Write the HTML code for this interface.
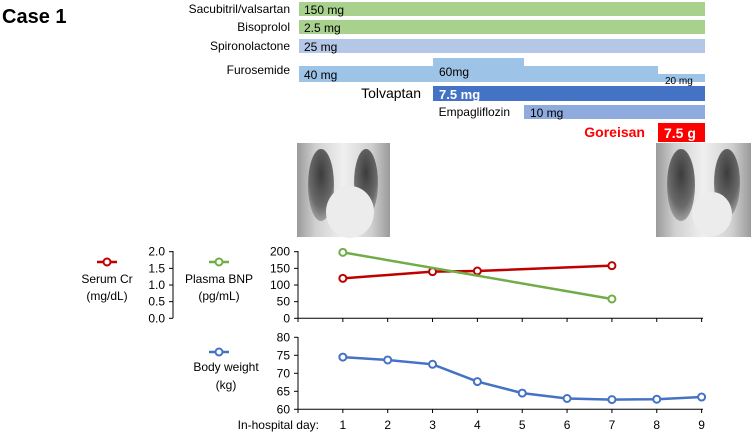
<!DOCTYPE html>
<html><head><meta charset="utf-8"><style>
body{margin:0;width:751px;height:435px;background:#fff;font-family:"Liberation Sans",sans-serif;overflow:hidden}
svg text{font-family:"Liberation Sans",sans-serif}
</style></head><body>
<svg id="c" width="751" height="435" xmlns="http://www.w3.org/2000/svg">
<defs>
<radialGradient id="lung" cx="0.5" cy="0.35" r="0.65"><stop offset="0" stop-color="#3c3c3c"/><stop offset="0.7" stop-color="#6a6a6a"/><stop offset="1" stop-color="#a0a0a0"/></radialGradient>
<linearGradient id="xb" x1="0" x2="1"><stop offset="0" stop-color="#9a9a9a"/><stop offset="0.2" stop-color="#d0d0d0"/><stop offset="0.5" stop-color="#f0f0f0"/><stop offset="0.8" stop-color="#d0d0d0"/><stop offset="1" stop-color="#9a9a9a"/></linearGradient>
</defs>
<text x="2" y="23" font-size="20" font-weight="bold">Case 1</text>
<g id="meds"></g>
<g id="xr1">
<rect x="297" y="143" width="93" height="94" fill="url(#xb)"/>
<ellipse cx="321" cy="185" rx="13" ry="36" fill="url(#lung)"/>
<ellipse cx="366" cy="183" rx="12" ry="34" fill="url(#lung)"/>
<ellipse cx="350" cy="212" rx="24" ry="26" fill="#ececec"/>
</g>
<g id="xr2">
<rect x="656" y="143" width="95" height="94" fill="url(#xb)"/>
<ellipse cx="681" cy="185" rx="14" ry="36" fill="url(#lung)"/>
<ellipse cx="727" cy="183" rx="13" ry="34" fill="url(#lung)"/>
<ellipse cx="712" cy="214" rx="20" ry="22" fill="#ececec"/>
</g>
<g id="chart"></g>
</svg>
<script>
const days=[1,2,3,4,5,6,7,8,9];
const crDays=[1,3,4,7];
const crValues=[1.2,1.4,1.42,1.58];
const bnpDays=[1,7];
const bnpValues=[198,58];
const weightValues=[74.5,73.7,72.5,67.7,64.5,63.0,62.7,62.8,63.4];
const topTicks=[0,50,100,150,200];
const crTicks=["0.0","0.5","1.0","1.5","2.0"];
const wTicks=[60,65,70,75,80];
const NS="http://www.w3.org/2000/svg";
const g=document.getElementById('chart');
function mk(t,a,p){const e=document.createElementNS(NS,t);for(const k in a)e.setAttribute(k,a[k]);(p||g).appendChild(e);return e;}
const x=d=>298+(d)*(701.6-298)/9;
const yT=v=>318.3-v*(318.3-251.7)/200;
const yW=v=>409.3-(v-60)*(409.3-337.3)/20;
const m=document.getElementById('meds');
function bar(name,x1,x2,y1,y2,col){const r=mk('rect',{x:x1,y:y1,width:x2-x1,height:y2-y1,fill:col},m);}
function txt(name,s,xx,yy,size,anchor,col,bold){const t=mk('text',{x:xx,y:yy,'font-size':size,'text-anchor':anchor,fill:col||'#000','font-weight':bold?'bold':'normal'},m);t.textContent=s;}
bar('sacubitril-bar',299,705,2,16,'#a9d18e');txt('sacubitril-label','Sacubitril/valsartan',290,13,12,'end');txt('sacubitril-dose','150 mg',304,14,12,'start');
bar('bisoprolol-bar',299,705,20,34,'#a9d18e');txt('bisoprolol-label','Bisoprolol',290,31,12,'end');txt('bisoprolol-dose','2.5 mg',304,32,12,'start');
bar('spironolactone-bar',299,705,39,53,'#b4c7e7');txt('spironolactone-label','Spironolactone',290,50,12,'end');txt('spironolactone-dose','25 mg',304,51,12,'start');
bar('furosemide-bar-40',299,658,66,82,'#9dc3e6');bar('furosemide-bar-60',433,524,58,66,'#9dc3e6');bar('furosemide-bar-20',658,705,74,82,'#9dc3e6');
txt('furosemide-label','Furosemide',290,74,12,'end');txt('furosemide-dose-40','40 mg',304,79,12,'start');txt('furosemide-dose-60','60mg',439,76,12,'start');txt('furosemide-dose-20','20 mg',665,84,10,'start');
bar('tolvaptan-bar',433,705,86,101,'#4472c4');txt('tolvaptan-label','Tolvaptan',421,98,14,'end');txt('tolvaptan-dose','7.5 mg',439,99,13,'start','#fff',true);
bar('empagliflozin-bar',524,705,105,119,'#8faadc');txt('empagliflozin-label','Empagliflozin',510,116,12,'end');txt('empagliflozin-dose','10 mg',530,117,12,'start');
bar('goreisan-bar',658,705,123,142,'#ff0000');txt('goreisan-label','Goreisan',645,137,14,'end','#ff0000',true);txt('goreisan-dose','7.5 g',664,138,14,'start','#fff',true);
function T(name,s,xx,yy,anchor,size){const t=mk('text',{x:xx,y:yy,'font-size':size||12,'text-anchor':anchor});t.textContent=s;}
let a=mk('line',{x1:298,y1:251,x2:298,y2:318.3,stroke:'#000'});
a=mk('line',{x1:298,y1:318.3,x2:703,y2:318.3,stroke:'#000'});
a=mk('line',{x1:173,y1:251,x2:173,y2:318.3,stroke:'#000'});
a=mk('line',{x1:298,y1:337,x2:298,y2:409.3,stroke:'#000'});
a=mk('line',{x1:298,y1:409.3,x2:703,y2:409.3,stroke:'#000'});
topTicks.forEach((v,i)=>{mk('line',{x1:294,y1:yT(v),x2:298,y2:yT(v),stroke:'#000'});T('bnp-tick-'+v,String(v),290,yT(v)+4,'end');
 mk('line',{x1:169,y1:yT(v),x2:173,y2:yT(v),stroke:'#000'});T('cr-tick-'+crTicks[i],crTicks[i],165,yT(v)+4,'end');});
wTicks.forEach(v=>{mk('line',{x1:294,y1:yW(v),x2:298,y2:yW(v),stroke:'#000'});T('weight-tick-'+v,String(v),290,yW(v)+4,'end');});
for(let d=0;d<=9;d++){mk('line',{x1:x(d),y1:318.3,x2:x(d),y2:322,stroke:'#000'});mk('line',{x1:x(d),y1:409.3,x2:x(d),y2:413,stroke:'#000'});}
days.forEach(d=>T('x-tick-'+d,String(d),x(d),429,'middle'));
T('x-axis-title','In-hospital day:',319,429,'end');
function series(name,xs,ys,col){const pts=xs.map((d,i)=>x(d)+','+ys[i]).join(' ');const l=mk('polyline',{points:pts,fill:'none',stroke:col,'stroke-width':2.5});
 xs.forEach((d,i)=>{const c=mk('circle',{cx:x(d),cy:ys[i],r:3.5,fill:'#fff',stroke:col,'stroke-width':2});});}
series('serum-cr',crDays,crValues.map(v=>yT(v*100)),'#c00000');
series('plasma-bnp',bnpDays,bnpValues.map(yT),'#70ad47');
series('body-weight',days,weightValues.map(yW),'#4472c4');
function leg(name,cx,cy,col){const l=mk('line',{x1:cx-10,y1:cy,x2:cx+10,y2:cy,stroke:col,'stroke-width':2.5});const c=mk('circle',{cx:cx,cy:cy,r:3.5,fill:'#fff',stroke:col,'stroke-width':2});}
leg('serum-cr',107,262,'#c00000');T('serum-cr-legend','Serum Cr',107,283,'middle');T('serum-cr-unit','(mg/dL)',107,300,'middle');
leg('plasma-bnp',219,262,'#70ad47');T('plasma-bnp-legend','Plasma BNP',219,283,'middle');T('plasma-bnp-unit','(pg/mL)',219,300,'middle');
leg('body-weight',219,352,'#4472c4');T('body-weight-legend','Body weight',226,371,'middle');T('body-weight-unit','(kg)',226,389,'middle');
</script>
</body></html>
